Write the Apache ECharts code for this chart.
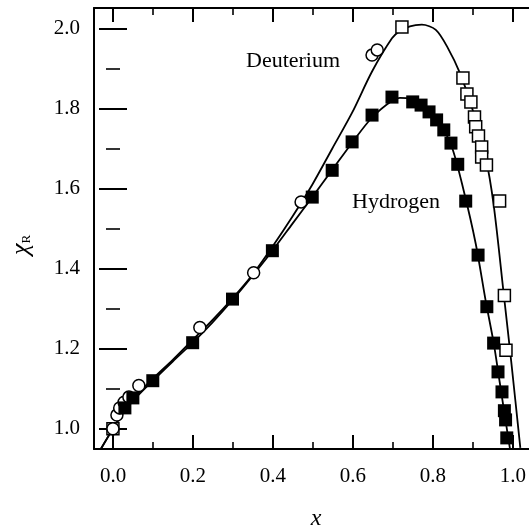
<!DOCTYPE html>
<html>
<head>
<meta charset="utf-8">
<script src="https://cdn.jsdelivr.net/npm/echarts@6/dist/echarts.min.js"></script>
<style>html,body{margin:0;padding:0;background:#fff}#c{width:529px;height:528px}</style>
</head>
<body>
<div id="c"></div>
<script>
// ---- data ----
var xTickLabels = ['0.0', '0.2', '0.4', '0.6', '0.8', '1.0'];
var yTickLabels = ['1.0', '1.2', '1.4', '1.6', '1.8', '2.0'];

var hydrogenX = [0.03, 0.05, 0.10, 0.20, 0.30, 0.40, 0.50, 0.55, 0.60, 0.65, 0.70, 0.752, 0.773, 0.793, 0.812, 0.830, 0.848, 0.865, 0.885, 0.916, 0.938, 0.955, 0.966, 0.976, 0.982, 0.985, 0.988];
var hydrogenY = [1.052, 1.077, 1.120, 1.215, 1.324, 1.445, 1.579, 1.646, 1.717, 1.784, 1.829, 1.817, 1.809, 1.792, 1.772, 1.747, 1.714, 1.661, 1.569, 1.434, 1.305, 1.214, 1.142, 1.092, 1.045, 1.022, 0.977];

var deutCircleX = [0.000, 0.010, 0.017, 0.028, 0.040, 0.065, 0.218, 0.353, 0.472, 0.650, 0.663];
var deutCircleY = [1.000, 1.034, 1.052, 1.066, 1.079, 1.108, 1.253, 1.390, 1.567, 1.934, 1.947];

var deutSquareX = [0.000, 0.725, 0.878, 0.888, 0.898, 0.907, 0.910, 0.917, 0.925, 0.925, 0.937, 0.970, 0.982, 0.986];
var deutSquareY = [1.000, 2.004, 1.877, 1.837, 1.817, 1.779, 1.755, 1.732, 1.704, 1.679, 1.659, 1.569, 1.333, 1.196];

var hCurveX = [-0.03, 0.0, 0.03, 0.06, 0.10, 0.15, 0.20, 0.25, 0.30, 0.35, 0.40, 0.45, 0.50, 0.55, 0.60, 0.65, 0.70, 0.72, 0.74, 0.78, 0.82, 0.85, 0.88, 0.91, 0.935, 0.955, 0.97, 0.985, 0.996];
var hCurveY = [0.95, 1.0, 1.045, 1.080, 1.120, 1.168, 1.215, 1.266, 1.322, 1.382, 1.445, 1.512, 1.579, 1.647, 1.715, 1.778, 1.820, 1.827, 1.826, 1.805, 1.762, 1.705, 1.595, 1.463, 1.320, 1.215, 1.118, 1.020, 0.95];

var dCurveX = [-0.03, 0.0, 0.03, 0.06, 0.10, 0.15, 0.20, 0.25, 0.30, 0.35, 0.40, 0.45, 0.50, 0.55, 0.60, 0.65, 0.70, 0.72, 0.745, 0.775, 0.81, 0.84, 0.87, 0.90, 0.935, 0.955, 0.98, 1.00, 1.022];
var dCurveY = [0.95, 1.0, 1.048, 1.085, 1.125, 1.172, 1.222, 1.272, 1.326, 1.385, 1.455, 1.530, 1.610, 1.700, 1.790, 1.893, 1.976, 1.994, 2.006, 2.010, 1.997, 1.952, 1.890, 1.805, 1.678, 1.560, 1.340, 1.160, 0.952];

function zip(a, b) { return a.map(function (v, i) { return [v, b[i]]; }); }

var FONT = 'Liberation Serif';
var chart = echarts.init(document.getElementById('c'), null, {renderer: 'canvas'});

var tickCommon = {
  axisLine: {show: false},
  axisTick: {show: true, inside: true, length: 14, lineStyle: {color: '#000', width: 2}},
  minorTick: {show: true, splitNumber: 2, length: 7, lineStyle: {color: '#000', width: 1.6}},
  splitLine: {show: false},
  minorSplitLine: {show: false}
};

function ext(o) { var r = {}; for (var k in tickCommon) r[k] = tickCommon[k]; for (var k2 in o) r[k2] = o[k2]; return r; }

var frameAxis = {
  axisLine: {show: true, onZero: false, lineStyle: {color: '#000', width: 2}},
  axisTick: {show: false}, axisLabel: {show: false}, splitLine: {show: false}
};
function fr(o) { var r = {}; for (var k in frameAxis) r[k] = frameAxis[k]; for (var k2 in o) r[k2] = o[k2]; return r; }

var option = {
  backgroundColor: '#fff',
  animation: false,
  grid: [
    {left: 94, right: -1.5, top: 8, bottom: 79, show: false},
    {left: 113, right: 16, top: 28.7, bottom: 99.3, show: false}
  ],
  xAxis: [
    fr({type: 'value', gridIndex: 0, position: 'bottom', min: -0.0475, max: 1.04375}),
    ext({type: 'value', gridIndex: 1, position: 'bottom', offset: 20.3, min: 0, max: 1, interval: 0.2,
      axisLabel: {show: true, margin: 17, color: '#000', fontFamily: FONT, fontSize: 21,
        formatter: function (v) { return xTickLabels[Math.round(v / 0.2)]; }}}),
    ext({type: 'value', gridIndex: 1, position: 'top', offset: 20.7, min: 0, max: 1, interval: 0.2,
      axisLabel: {show: false}}),
    fr({type: 'value', gridIndex: 0, position: 'top', min: -0.0475, max: 1.04375})
  ],
  yAxis: [
    fr({type: 'value', gridIndex: 0, position: 'left', min: 0.94925, max: 2.05175}),
    ext({type: 'value', gridIndex: 1, position: 'left', offset: 19, min: 1.0, max: 2.0, interval: 0.2,
      axisLabel: {show: true, margin: 14, color: '#000', fontFamily: FONT, fontSize: 21,
        formatter: function (v) { return yTickLabels[Math.round((v - 1) / 0.2)]; }}}),
    ext({type: 'value', gridIndex: 1, position: 'right', offset: 17.5, min: 1.0, max: 2.0, interval: 0.2,
      axisLabel: {show: false}})
  ],
  series: [
    {name: 'Deuterium fit', type: 'line', xAxisIndex: 0, yAxisIndex: 0, data: zip(dCurveX, dCurveY),
      smooth: 0.3, showSymbol: false, symbol: 'none',
      lineStyle: {color: '#000', width: 1.8}, z: 2},
    {name: 'Hydrogen fit', type: 'line', xAxisIndex: 0, yAxisIndex: 0, data: zip(hCurveX, hCurveY),
      smooth: 0.3, showSymbol: false, symbol: 'none',
      lineStyle: {color: '#000', width: 1.8}, z: 2},
    {name: 'Deuterium squares', type: 'scatter', xAxisIndex: 0, yAxisIndex: 0, data: zip(deutSquareX, deutSquareY),
      symbol: 'rect', symbolSize: 12, itemStyle: {color: '#fff', borderColor: '#000', borderWidth: 1.5, opacity: 1}, z: 3},
    {name: 'Deuterium circles', type: 'scatter', xAxisIndex: 0, yAxisIndex: 0, data: zip(deutCircleX, deutCircleY),
      symbol: 'circle', symbolSize: 12, itemStyle: {color: '#fff', borderColor: '#000', borderWidth: 1.5, opacity: 1}, z: 4},
    {name: 'Hydrogen', type: 'scatter', xAxisIndex: 0, yAxisIndex: 0, data: zip(hydrogenX, hydrogenY),
      symbol: 'rect', symbolSize: 13, itemStyle: {color: '#000', opacity: 1}, z: 5}
  ],
  graphic: [
    {type: 'text', left: 246, top: 50, style: {text: 'Deuterium', fontFamily: FONT, fontSize: 22, fill: '#000'}, z: 10},
    {type: 'text', left: 352, top: 191, style: {text: 'Hydrogen', fontFamily: FONT, fontSize: 22, fill: '#000'}, z: 10},
    {type: 'text', x: 316, y: 519, style: {text: 'x', fontFamily: FONT, fontStyle: 'italic', fontSize: 24, fill: '#000', align: 'center', verticalAlign: 'middle'}, z: 10},
    {type: 'text', x: 21, y: 245, rotation: Math.PI / 2,
      style: {text: '{a|χ}{b|R}', align: 'center', verticalAlign: 'middle', fill: '#000',
        rich: {a: {fontFamily: FONT, fontStyle: 'italic', fontSize: 26, fill: '#000'},
               b: {fontFamily: FONT, fontSize: 13, fill: '#000', padding: [12, 0, 0, 0]}}}, z: 10}
  ]
};
chart.setOption(option);
</script>
</body>
</html>
